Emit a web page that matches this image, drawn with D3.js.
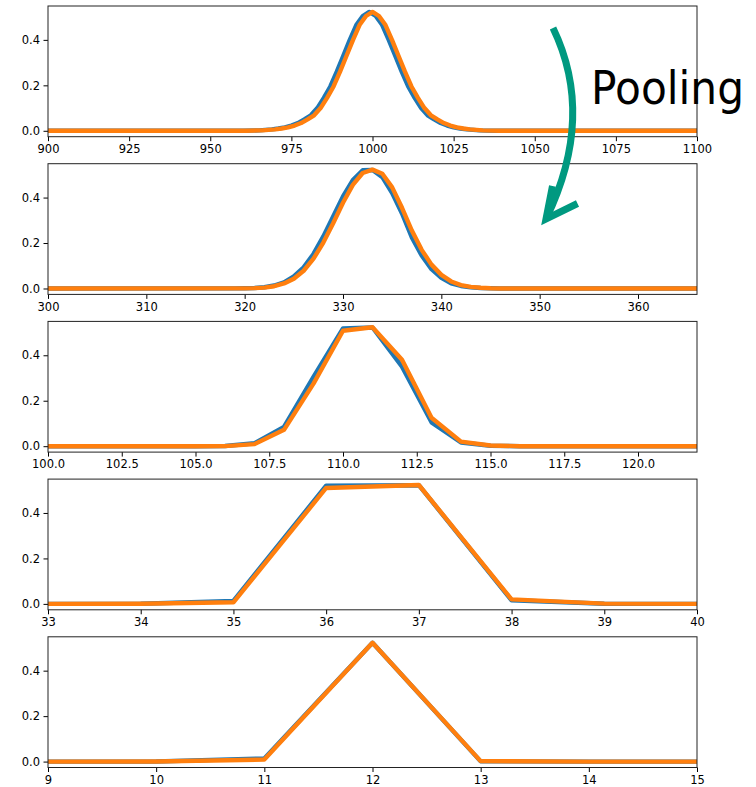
<!DOCTYPE html>
<html>
<head>
<meta charset="utf-8">
<script src="https://cdnjs.cloudflare.com/ajax/libs/d3/7.8.5/d3.min.js"></script>
<style>
  body { margin: 0; background: #fff; }
  text { font-family: 'DejaVu Sans', sans-serif; }
</style>
</head>
<body>
<div id="container"></div>
<script>
// panel 1: original signal
const x0Blue = [900, 950, 960, 965, 969, 971, 973, 975, 977, 979, 981, 983, 985, 987, 989, 991, 993, 995, 997, 999,
  1001, 1003, 1005, 1007, 1009, 1011, 1013, 1015, 1017, 1019, 1021, 1023, 1025, 1027, 1029, 1033, 1038, 1048, 1100];
const y0Blue = [0, 0, 0.0005, 0.002, 0.006, 0.010, 0.015, 0.023, 0.034, 0.050, 0.068, 0.100, 0.145, 0.195, 0.260, 0.330, 0.400, 0.465, 0.505, 0.523,
  0.505, 0.465, 0.400, 0.330, 0.260, 0.195, 0.145, 0.100, 0.068, 0.050, 0.034, 0.023, 0.015, 0.010, 0.006, 0.002, 0.0005, 0, 0];
const x0Orange = [900, 951, 961, 966, 970, 972, 974, 976, 978, 980, 982, 984, 986, 988, 990, 992, 994, 996, 998, 1000,
  1002, 1004, 1006, 1008, 1010, 1012, 1014, 1016, 1018, 1020, 1022, 1024, 1026, 1028, 1030, 1034, 1039, 1049, 1100];
const y0Orange = [0, 0, 0.0005, 0.002, 0.006, 0.010, 0.015, 0.023, 0.034, 0.050, 0.068, 0.100, 0.145, 0.195, 0.260, 0.330, 0.400, 0.465, 0.505, 0.523,
  0.505, 0.465, 0.400, 0.330, 0.260, 0.195, 0.145, 0.100, 0.068, 0.050, 0.034, 0.023, 0.015, 0.010, 0.006, 0.002, 0.0005, 0, 0];

// panel 2: pooled once
const x1 = [300, 319, 320, 321, 322, 323, 324, 325, 326, 327, 328, 329, 330, 331, 332, 333,
  334, 335, 336, 337, 338, 339, 340, 341, 342, 343, 344, 345, 346, 366];
const y1Blue = [0, 0.0005, 0.001, 0.002, 0.0055, 0.013, 0.027, 0.053, 0.093, 0.152, 0.229, 0.317, 0.405, 0.477, 0.520, 0.521,
  0.490, 0.420, 0.330, 0.225, 0.145, 0.085, 0.047, 0.023, 0.011, 0.005, 0.002, 0.001, 0, 0];
const y1Orange = [0, 0.0003, 0.0007, 0.0015, 0.004, 0.010, 0.022, 0.043, 0.078, 0.131, 0.202, 0.287, 0.377, 0.456, 0.508, 0.523,
  0.505, 0.445, 0.355, 0.255, 0.170, 0.105, 0.060, 0.031, 0.015, 0.007, 0.003, 0.001, 0, 0];

// panel 3
const x2 = [100, 105, 106, 107, 108, 109, 110, 111, 112, 113, 114, 115, 116, 122];
const y2Blue = [0, 0, 0.001, 0.013, 0.085, 0.305, 0.518, 0.522, 0.350, 0.105, 0.016, 0.002, 0, 0];
const y2Orange = [0, 0, 0.0005, 0.009, 0.072, 0.275, 0.508, 0.523, 0.380, 0.125, 0.020, 0.003, 0, 0];

// panel 4
const x3 = [33, 34, 35, 36, 37, 38, 39, 40];
const y3Blue = [0, 0.0005, 0.013, 0.520, 0.522, 0.016, 0.0005, 0];
const y3Orange = [0, 0.0003, 0.007, 0.510, 0.523, 0.020, 0.001, 0];

// panel 5
const x4 = [9, 10, 11, 12, 13, 14, 15];
const y4Blue = [0, 0.0005, 0.014, 0.523, 0.001, 0, 0];
const y4Orange = [0, 0.0003, 0.009, 0.523, 0.002, 0, 0];

const xDomains = [[900, 1100], [300, 366], [100, 122], [33, 40], [9, 15]];
const xTicks = [
  [900, 925, 950, 975, 1000, 1025, 1050, 1075, 1100],
  [300, 310, 320, 330, 340, 350, 360],
  [100, 102.5, 105, 107.5, 110, 112.5, 115, 117.5, 120],
  [33, 34, 35, 36, 37, 38, 39, 40],
  [9, 10, 11, 12, 13, 14, 15],
];
const xFormats = ['d', 'd', '.1f', 'd', 'd'];
const yTicks = [0, 0.2, 0.4];
const yDomain = [-0.026, 0.549];

const panels = [
  { blue: [x0Blue, y0Blue], orange: [x0Orange, y0Orange] },
  { blue: [x1, y1Blue], orange: [x1, y1Orange] },
  { blue: [x2, y2Blue], orange: [x2, y2Orange] },
  { blue: [x3, y3Blue], orange: [x3, y3Orange] },
  { blue: [x4, y4Blue], orange: [x4, y4Orange] },
];

const svgWidth = 756,
  svgHeight = 787,
  left = 48,
  right = 697,
  firstTop = 6,
  panelStep = 157.7,
  panelHeight = 130.7;

const svg = d3
  .select('#container')
  .append('svg')
  .attr('width', svgWidth)
  .attr('height', svgHeight)
  .style('background-color', '#fff');

const zip = (xs, ys) => xs.map((x, i) => [x, ys[i]]);

panels.forEach((p, i) => {
  const top = firstTop + i * panelStep;
  const bottom = top + panelHeight;

  const xScale = d3.scaleLinear().domain(xDomains[i]).range([left, right]);
  const yScale = d3.scaleLinear().domain(yDomain).range([bottom, top]);

  const g = svg.append('g').attr('class', 'panel');

  g.append('clipPath')
    .attr('id', `clip${i}`)
    .append('rect')
    .attr('x', left)
    .attr('y', top)
    .attr('width', right - left)
    .attr('height', panelHeight);

  const line = d3
    .line()
    .x((d) => xScale(d[0]))
    .y((d) => yScale(d[1]));

  const lines = g.append('g').attr('clip-path', `url(#clip${i})`);
  [['blue', '#1f77b4'], ['orange', '#ff7f0e']].forEach(([key, color]) => {
    lines
      .append('path')
      .datum(zip(p[key][0], p[key][1]))
      .attr('d', line)
      .attr('fill', 'none')
      .attr('stroke', color)
      .attr('stroke-width', 4.4)
      .attr('stroke-linejoin', 'round');
  });

  const xAxis = d3
    .axisBottom(xScale)
    .tickValues(xTicks[i])
    .tickFormat(d3.format(xFormats[i]))
    .tickSize(4.5)
    .tickPadding(3.5);
  const yAxis = d3
    .axisLeft(yScale)
    .tickValues(yTicks)
    .tickFormat(d3.format('.1f'))
    .tickSize(4.5)
    .tickPadding(3.5);

  g.append('g')
    .attr('transform', `translate(0,${bottom})`)
    .call(xAxis)
    .call((a) => a.select('.domain').remove());
  g.append('g')
    .attr('transform', `translate(${left},0)`)
    .call(yAxis)
    .call((a) => a.select('.domain').remove());

  g.selectAll('.tick text')
    .attr('font-family', 'DejaVu Sans, sans-serif')
    .attr('font-size', 11.5)
    .attr('fill', '#000');
  g.selectAll('.tick line').attr('stroke', '#000');

  g.append('rect')
    .attr('x', left)
    .attr('y', top)
    .attr('width', right - left)
    .attr('height', panelHeight)
    .attr('fill', 'none')
    .attr('stroke', '#222')
    .attr('stroke-width', 1);
});

// annotation: curved arrow and label
const arrowColor = '#009980';
svg
  .append('path')
  .attr('d', 'M553,28 Q595.5,116 546.5,218')
  .attr('fill', 'none')
  .attr('stroke', arrowColor)
  .attr('stroke-width', 7);
svg
  .append('path')
  .attr('d', 'M577.5,203.5 L546,219 L552.5,186')
  .attr('fill', 'none')
  .attr('stroke', arrowColor)
  .attr('stroke-width', 7)
  .attr('stroke-linejoin', 'miter')
  .attr('stroke-linecap', 'butt');

svg
  .append('text')
  .attr('x', 591)
  .attr('y', 104)
  .attr('font-family', 'Liberation Sans, Arial, sans-serif')
  .attr('font-size', 46)
  .attr('textLength', 153)
  .attr('lengthAdjust', 'spacingAndGlyphs')
  .attr('fill', '#000')
  .text('Pooling');
</script>
</body>
</html>
